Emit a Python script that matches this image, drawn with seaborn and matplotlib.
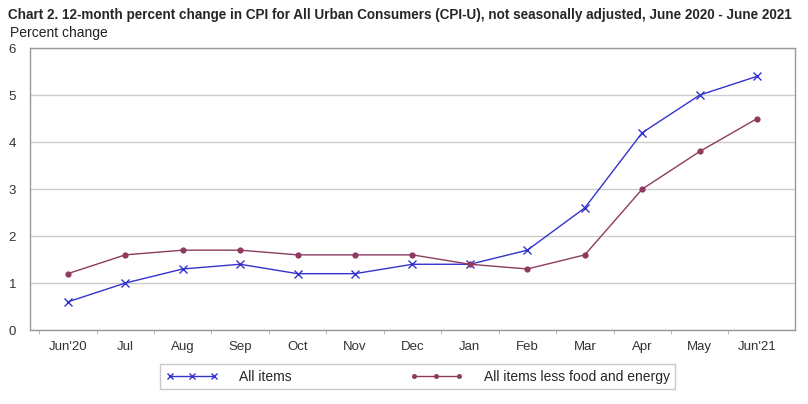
import matplotlib
matplotlib.use("Agg")
import matplotlib.pyplot as plt
from matplotlib import font_manager
import pandas as pd
import seaborn as sns

months = ["Jun'20", "Jul", "Aug", "Sep", "Oct", "Nov", "Dec",
          "Jan", "Feb", "Mar", "Apr", "May", "Jun'21"]
all_items = [0.6, 1.0, 1.3, 1.4, 1.2, 1.2, 1.4, 1.4, 1.7, 2.6, 4.2, 5.0, 5.4]
core_items = [1.2, 1.6, 1.7, 1.7, 1.6, 1.6, 1.6, 1.4, 1.3, 1.6, 3.0, 3.8, 4.5]
series_names = ["All items", "All items less food and energy"]
y_ticks = [0, 1, 2, 3, 4, 5, 6]

TITLE = ("Chart 2. 12-month percent change in CPI for All Urban Consumers "
         "(CPI-U), not seasonally adjusted, June 2020 - June 2021")

BLUE = "#3333cc"
MAROON = "#8e3b5f"


def main():
    sns.set_style("white")
    plt.rcParams["font.family"] = ["Liberation Sans", "DejaVu Sans"]

    pos = list(range(len(months)))
    df_all = pd.DataFrame({"pos": pos, "value": all_items})
    df_core = pd.DataFrame({"pos": pos, "value": core_items})

    fig = plt.figure(figsize=(8.08, 4.04), dpi=100)
    ax = fig.add_axes([0.037, 0.183, 0.947, 0.698])

    sns.lineplot(data=df_all, x="pos", y="value", color=BLUE, marker="x",
                 markersize=6, markeredgewidth=1.0, markeredgecolor=BLUE,
                 linewidth=1.0, label=series_names[0], ax=ax)
    sns.lineplot(data=df_core, x="pos", y="value", color=MAROON, marker="o",
                 markersize=4.5, markeredgewidth=0, linewidth=1.0,
                 label=series_names[1], ax=ax)

    ax.set_xlim(-0.66, 12.66)
    ax.set_ylim(0, 6)
    ax.set_xticks(pos)
    ax.set_xticklabels(months, fontsize=9.5, color="#333333")
    ax.set_xticks([i + 0.5 for i in range(-1, 12)], minor=True)
    ax.set_yticks(y_ticks)
    ax.set_yticklabels([str(v) for v in y_ticks], fontsize=9.5, color="#333333")
    ax.tick_params(axis="x", which="major", length=0, pad=8)
    ax.tick_params(axis="x", which="minor", length=3, color="#aaaaaa",
                   direction="out", bottom=True)
    ax.tick_params(axis="y", length=0, pad=10)
    ax.yaxis.grid(True, color="#cccccc", linewidth=1.0)
    ax.set_axisbelow(True)
    for sp in ax.spines.values():
        sp.set_color("#999999")
        sp.set_linewidth(1.0)
    ax.set_xlabel("")
    ax.set_ylabel("")

    handles, labels = ax.get_legend_handles_labels()
    ax.legend(
        handles, labels, loc="center", bbox_to_anchor=(0.517, 0.067),
        bbox_transform=fig.transFigure, ncol=2, frameon=True, fancybox=False,
        edgecolor="#bbbbbb", fontsize=10, handlelength=3.8, columnspacing=8.5,
        borderpad=0.4, numpoints=3, handletextpad=1.5, markerscale=0.8,
    )

    # narrow bold title if available; otherwise shrink to fit the width
    names = {f.name for f in font_manager.fontManager.ttflist}
    title_family = ["Liberation Sans Narrow"] if "Liberation Sans Narrow" in names \
        else ["Liberation Sans", "DejaVu Sans"]
    title = fig.text(0.01, 0.962, TITLE, family=title_family, fontweight="bold",
                     fontsize=11.5, va="center", ha="left")
    fig.canvas.draw()
    width = title.get_window_extent().width
    if width > 790:
        title.set_fontsize(11.5 * 790 / width)

    fig.text(0.012, 0.918, "Percent change", fontsize=10, va="center", ha="left",
             color="#222222")

    fig.savefig("out.png", dpi=100)


if __name__ == "__main__":
    main()
